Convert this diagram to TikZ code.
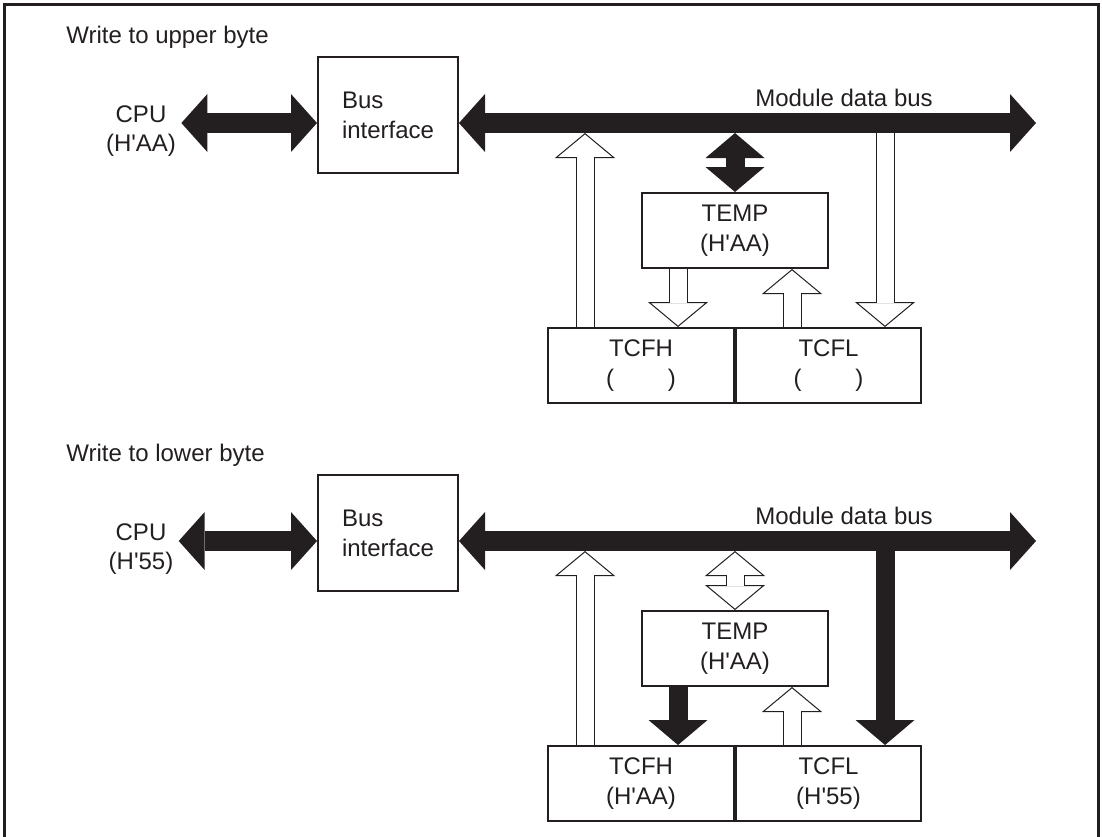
\documentclass[tikz,border=0pt]{standalone}
\usepackage{fontspec}
\setmainfont{Liberation Sans}
\usepackage{tikz}
\usetikzlibrary{positioning, arrows.meta, calc}
\definecolor{ink}{RGB}{35,31,32}
\newcommand\hq{H\textquotesingle}
\tikzset{
  plain/.style={font=\fontsize{12}{14.5}\selectfont, text=ink, align=center, inner sep=0pt},
  title/.style={plain, anchor=west},
  regbox/.style={
    draw=ink, line width=1pt, minimum width=93pt, minimum height=37.5pt,
    inner sep=0pt, align=center, text=ink, font=\fontsize{12}{15}\selectfont
  },
  busbox/.style={regbox, minimum width=70pt, minimum height=58pt, align=left, text width=46pt},
  frame/.style={draw=ink, line width=1.5pt},
  bushead/.tip={Triangle[length=13pt, width=29pt, line width=0pt]},
  vhead/.tip={Triangle[length=12.5pt, width=29.5pt, line width=0pt]},
  vopen/.tip={Triangle[length=12.5pt, width=30pt, line width=0.5pt, fill=white]},
  fatbus/.style={draw=ink, fill=ink, line width=10pt, {bushead}-{bushead}},
  fatdown/.style={draw=ink, fill=ink, line width=9.5pt, -{vhead}},
  fatdbl/.style={draw=ink, fill=ink, line width=9.5pt, {vhead}-{vhead}},
  openfat/.style={draw=ink, line width=9.5pt, -{vopen}},
  openfat inner/.style={draw=white, line width=8.5pt, shorten >=12pt},
  opendbl/.style={draw=ink, line width=9.5pt, {vopen}-{vopen}},
  opendbl inner/.style={draw=white, line width=8.5pt, shorten <=12pt, shorten >=12pt},
}
% open (white) block arrows need two passes
\newcommand\openarrow[2]{%
  \draw[openfat] (#1) -- (#2);
  \draw[openfat inner] (#1) -- (#2);}
\newcommand\opendouble[2]{%
  \draw[opendbl] (#1) -- (#2);
  \draw[opendbl inner] (#1) -- (#2);}

\begin{document}
\begin{tikzpicture}[x=0.5pt, y=-0.5pt]
  \useasboundingbox (0,0) rectangle (1102,836);
  \draw[frame] (4,860) -- (4,4) -- (1098,4) -- (1098,860);

  % write to upper byte
  \node[title] (title1) at (66,37) {Write to upper byte};
  \node[plain, inner xsep=2.5pt] (cpu1) at (141,131) {CPU\\(\hq AA)};
  \node[busbox] (bif1) at (388,115) {Bus\\interface};
  \coordinate (lvl1) at (0,123);
  \coordinate (busbot1) at (0,133);
  \coordinate (busend1) at (1036,123);
  \draw[fatbus] (cpu1.east |- lvl1) -- (bif1.west |- lvl1);
  \draw[fatbus] (bif1.east |- lvl1) -- (busend1);
  \node[plain] (mdb1) at (844,98) {Module data bus};

  \node[regbox, anchor=north west] (tcfh1) at (547,327) {TCFH\\(\phantom{\hq AA})};
  \node[regbox, minimum width=92.5pt, right=0pt of tcfh1] (tcfl1) {TCFL\\(\phantom{\hq AA})};
  \node[regbox, above=29pt of tcfh1.north east] (temp1) {TEMP\\(\hq AA)};

  \coordinate (h1) at ($(tcfh1.north west)+(38,0)$);
  \coordinate (d1) at ($(temp1.south west)+(37,0)$);
  \coordinate (u1) at ($(temp1.south east)+(-37,0)$);
  \coordinate (r1) at ($(tcfl1.north east)+(-37,0)$);
  \openarrow{h1}{h1 |- busbot1}
  \draw[fatdbl] (temp1.north |- busbot1) -- (temp1.north);
  \openarrow{d1}{d1 |- tcfh1.north}
  \openarrow{u1 |- tcfl1.north}{u1}
  \openarrow{r1 |- busbot1}{r1 |- tcfl1.north}

  % write to lower byte
  \begin{scope}[shift={(0,418)}]
    \node[title] (title2) at (66,37) {Write to lower byte};
    \node[plain, inner xsep=2.5pt] (cpu2) at (141,131) {CPU\\(\hq 55)};
    \node[busbox] (bif2) at (388,115) {Bus\\interface};
    \coordinate (lvl2) at (0,123);
    \coordinate (busbot2) at (0,133);
    \coordinate (busend2) at (1036,123);
    \draw[fatbus] (cpu2.east |- lvl2) -- (bif2.west |- lvl2);
    \draw[fatbus] (bif2.east |- lvl2) -- (busend2);
    \node[plain] (mdb2) at (844,98) {Module data bus};

    \node[regbox, anchor=north west] (tcfh2) at (547,327) {TCFH\\(\hq AA)};
    \node[regbox, minimum width=92.5pt, right=0pt of tcfh2] (tcfl2) {TCFL\\(\hq 55)};
    \node[regbox, above=29pt of tcfh2.north east] (temp2) {TEMP\\(\hq AA)};

    \coordinate (h2) at ($(tcfh2.north west)+(38,0)$);
    \coordinate (d2) at ($(temp2.south west)+(37,0)$);
    \coordinate (u2) at ($(temp2.south east)+(-37,0)$);
    \coordinate (r2) at ($(tcfl2.north east)+(-37,0)$);
    \openarrow{h2}{h2 |- busbot2}
    \opendouble{temp2.north |- busbot2}{temp2.north}
    \draw[fatdown] (d2) -- (d2 |- tcfh2.north);
    \openarrow{u2 |- tcfl2.north}{u2}
    \draw[fatdown] (r2 |- busbot2) -- (r2 |- tcfl2.north);
  \end{scope}
\end{tikzpicture}
\end{document}
